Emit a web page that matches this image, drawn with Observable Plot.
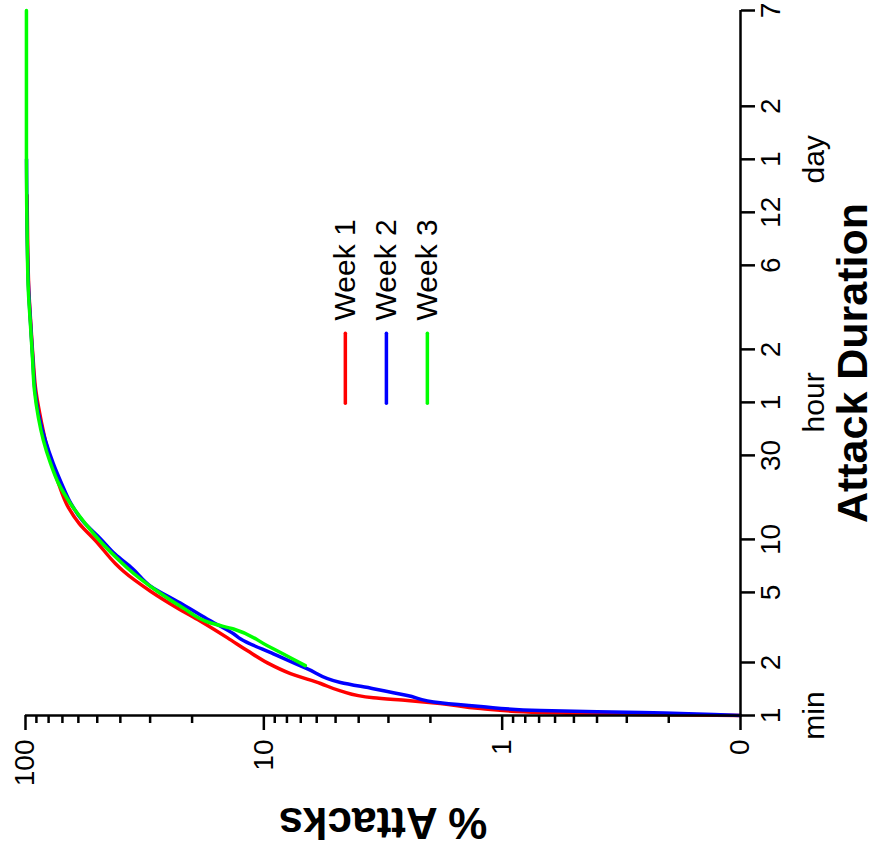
<!DOCTYPE html>
<html><head><meta charset="utf-8">
<script src="https://cdn.jsdelivr.net/npm/d3@7"></script>
<script src="https://cdn.jsdelivr.net/npm/@observablehq/plot@0.6"></script>
<style>
html,body{margin:0;padding:0;background:#fff;}
</style></head><body><div id="chart"></div>
<script>
// ---- data (duration in minutes, cumulative % of attacks) ----
const series = ["Week 1", "Week 2", "Week 3"];
const colors = ["#ff0000", "#0000ff", "#00ff00"];

const week1Minutes = [1, 1.013, 1.04, 1.095, 1.17, 1.215, 1.26, 1.38, 1.52, 1.73, 1.99, 2.33, 2.76, 3.44, 4.07, 5.08, 6.59, 7.30, 9.86, 12.3, 15.2, 20.8, 27.0, 36.4, 45.5, 70, 108, 168, 259, 424, 900];
const week1Percent = [0.1, 0.26, 0.69, 1.23, 1.82, 2.5, 3.47, 4.77, 5.78, 7.73, 9.66, 11.7, 14.2, 18.5, 23.0, 29.9, 38.8, 42.0, 50.9, 59.5, 66.1, 72.7, 77.5, 82.5, 85.5, 90.5, 93.0, 95.0, 96.8, 97.8, 98.5];

const week2Minutes = [1, 1.04, 1.067, 1.124, 1.18, 1.30, 1.42, 1.54, 1.84, 2.24, 2.72, 2.91, 3.53, 4.35, 5.43, 6.83, 8.22, 10.1, 12.6, 16.0, 20.8, 27.0, 36.4, 49.2, 70, 108, 168, 259, 464, 1440];
const week2Percent = [0.1, 0.26, 0.69, 1.23, 1.82, 2.5, 3.47, 4.77, 6.56, 9.12, 12.5, 13.4, 17.3, 22.4, 29.9, 35.6, 42.0, 48.5, 57.2, 64.5, 70.6, 76.5, 82.5, 87.5, 91.2, 93.3, 95.2, 97.0, 98.2, 99.0];

const week3Minutes = [1.92, 2.49, 3.10, 3.35, 4.07, 5.08, 6.86, 7.30, 9.48, 12.3, 16.0, 20.8, 27.0, 36.4, 49.2, 70, 108, 168, 259, 424, 1555, 10080];
const week3Percent = [6.7, 9.66, 13.4, 16.7, 21.7, 28.0, 37.3, 39.2, 47.6, 56.1, 64.8, 72.7, 78.5, 84.1, 88.3, 91.7, 93.5, 95.4, 97.3, 98.2, 99.1, 99.1];

// ---- axis ticks ----
const percentTicks = [0.1, 1, 10, 100];
const percentTickLabels = ["0", "1", "10", "100"];
const percentMinorTicks = [0.2,0.3,0.4,0.5,0.6,0.7,0.8,0.9, 2,3,4,5,6,7,8,9, 20,30,40,50,60,70,80,90];
const durationTicks = [1, 2, 5, 10, 30, 60, 120, 360, 720, 1440, 2880, 10080];
const durationTickLabels = ["1", "2", "5", "10", "30", "1", "2", "6", "12", "1", "2", "7"];
const unitTicks = [1, 60, 1440];
const unitLabels = ["min", "hour", "day"];

// ---- legend placement (data space, like "set key at") ----
const legendPercent = [4.55, 3.06, 2.06];
const legendFrom = 147, legendTo = 59, legendTextAt = 175;

const toRows = (name, mins, pcts) => mins.map((m, i) => ({series: name, minutes: m, percent: pcts[i]}));
const rows1 = toRows(series[0], week1Minutes, week1Percent);
const rows2 = toRows(series[1], week2Minutes, week2Percent);
const rows3 = toRows(series[2], week3Minutes, week3Percent);

const font = "'Liberation Sans', Arial, Helvetica, sans-serif";

const chart = Plot.plot({
  width: 876,
  height: 856,
  marginLeft: 25,
  marginRight: 136,
  marginTop: 10,
  marginBottom: 141,
  style: {fontFamily: font, background: "#fff", overflow: "visible", color: "#000"},
  x: {type: "log", domain: [0.1, 100], reverse: true},
  y: {type: "log", domain: [1, 10080]},
  color: {domain: series, range: colors},
  marks: [
    Plot.line(rows1, {x: "percent", y: "minutes", stroke: "series", strokeWidth: 3.5, curve: "monotone-y"}),
    Plot.line(rows2, {x: "percent", y: "minutes", stroke: "series", strokeWidth: 3.5, curve: "monotone-y"}),
    Plot.line(rows3, {x: "percent", y: "minutes", stroke: "series", strokeWidth: 3.5, curve: "monotone-y"}),
    Plot.ruleY([1], {strokeWidth: 2.5, stroke: "#000"}),
    Plot.ruleX([0.1], {strokeWidth: 2.5, stroke: "#000"}),
    Plot.axisX({anchor: "bottom", ticks: percentTicks, tickSize: 15, tickFormat: () => "", label: null, strokeWidth: 2.5}),
    Plot.axisX({anchor: "bottom", ticks: percentMinorTicks, tickSize: 8, tickFormat: () => "", label: null, strokeWidth: 2.5}),
    Plot.axisY({anchor: "right", ticks: durationTicks, tickSize: 14, tickFormat: () => "", label: null, strokeWidth: 2.5}),
    Plot.text(percentTicks, {x: d => d, text: (d, i) => percentTickLabels[i], frameAnchor: "bottom", dy: 24, rotate: -90, textAnchor: "end", lineAnchor: "middle", fontSize: 28, fill: "#000"}),
    Plot.text(durationTicks, {y: d => d, text: (d, i) => durationTickLabels[i], frameAnchor: "right", dx: 31, rotate: -90, textAnchor: "middle", lineAnchor: "middle", fontSize: 28, fill: "#000"}),
    Plot.text(unitTicks, {y: d => d, text: (d, i) => unitLabels[i], frameAnchor: "right", dx: 74, rotate: -90, textAnchor: "middle", lineAnchor: "middle", fontSize: 30, fill: "#000"}),
    Plot.text(["Attack Duration"], {text: d => d, frameAnchor: "right", dx: 113, rotate: -90, textAnchor: "middle", lineAnchor: "middle", fontWeight: "bold", fontSize: 43, fill: "#000"}),
    Plot.text(["% Attacks"], {text: d => d, frameAnchor: "bottom", dy: 107, rotate: 180, textAnchor: "middle", lineAnchor: "middle", fontWeight: "bold", fontSize: 44, fill: "#000"}),
    Plot.ruleX(series, {x: (d, i) => legendPercent[i], y1: () => legendFrom, y2: () => legendTo, stroke: d => d, strokeWidth: 3.5, strokeLinecap: "round"}),
    Plot.text(series, {x: (d, i) => legendPercent[i], y: () => legendTextAt, text: d => d, rotate: -90, textAnchor: "start", lineAnchor: "middle", fontSize: 30, fill: "#000"})
  ]
});
document.getElementById("chart").appendChild(chart);
</script>
</body></html>
